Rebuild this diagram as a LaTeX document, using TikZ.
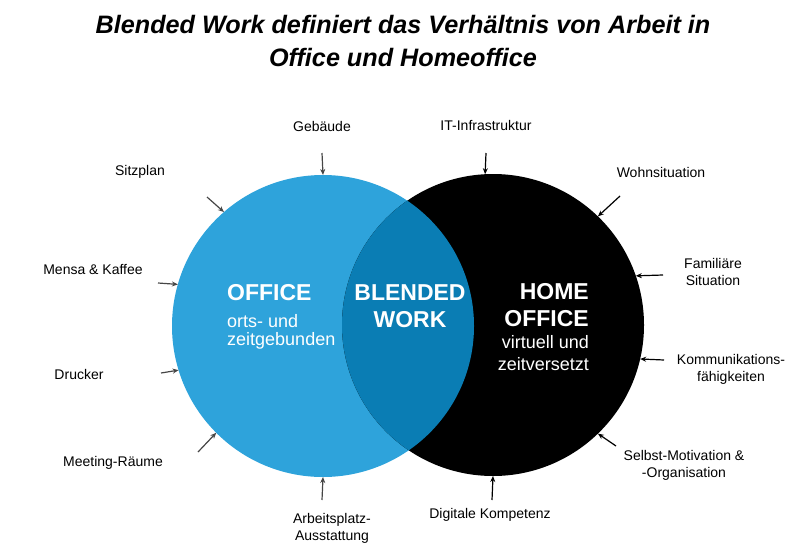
\documentclass[tikz,border=0pt]{standalone}
\usepackage{fontspec}
\setmainfont{Liberation Sans}
\usetikzlibrary{arrows.meta,positioning}

\definecolor{office-blue}{RGB}{46,163,219}   %light blue
\definecolor{blend-blue}{RGB}{10,125,180}    %overlap
\definecolor{arrow-gray}{RGB}{70,70,70}

\tikzset{
  lbl/.style={font=\fontsize{14}{17}\selectfont, align=center, inner sep=0pt},
  inarrow/.style={line width=1.2pt, -{Stealth[length=6pt,width=5pt]}},
  venn/.style={circle, minimum size=302pt, inner sep=0pt, outer sep=0pt},
  head/.style={text=white, inner sep=0pt, font=\bfseries\fontsize{23}{26}\selectfont},
  sub/.style={text=white, inner sep=0pt, font=\fontsize{18}{21}\selectfont}
}

\begin{document}
\begin{tikzpicture}[x=1pt,y=-1pt]  %pixel units, y downwards
    \useasboundingbox (0,0) rectangle (799,554);

    \def\xo{323};   \def\yo{326};   %office centre
    \def\xh{493};   \def\yh{325};   %home office centre
    \def\rr{151pt};                 %radius

    %title
    \node[font=\bfseries\itshape\fontsize{25.2}{33}\selectfont, align=center, inner sep=0pt] (title) at (403,41)
        {Blended Work definiert das Verhältnis von Arbeit in\\Office und Homeoffice};

    %circles
    \node[venn, fill=office-blue] (office) at (\xo,\yo) {};
    \node[venn, fill=black] (home) at (\xh,\yh) {};
    \begin{scope}
      \clip (\xo,\yo) circle (\rr);
      \fill[blend-blue] (\xh,\yh) circle (\rr);
    \end{scope}

    %circle texts (one node per line, at baselines)
    \node[head, anchor=base west] (officea) at (227,300) {OFFICE};
    \node[sub, anchor=base west] (officeb) at (227,327) {orts- und};
    \node[sub, anchor=base west] (officec) at (227,345) {zeitgebunden};

    \node[head, anchor=base] (blenda) at (410,300) {BLENDED};
    \node[head, anchor=base] (blendb) at (410,327) {WORK};

    \node[head, anchor=base east] (homea) at (589,299) {HOME};
    \node[head, anchor=base east] (homeb) at (589,326) {OFFICE};
    \node[sub, anchor=base east] (homec) at (589,348) {virtuell und};
    \node[sub, anchor=base east] (homed) at (589,370) {zeitversetzt};

    %office factors
    \node[lbl] (gebaeude) at (322,126) {Gebäude};
    \node[lbl] (sitzplan) at (140,172) {Sitzplan};
    \node[lbl] (mensa) at (93,269) {Mensa \& Kaffee};
    \node[lbl] (drucker) at (79,374) {Drucker};
    \node[lbl] (meeting) at (113,463) {Meeting-Räume};
    \node[lbl] (platz) at (332,528) {Arbeitsplatz-\\Ausstattung};

    \coordinate (tgebaeude) at (322,153);
    \coordinate (tsitzplan) at (207,197);
    \coordinate (tmensa) at (158,283);
    \coordinate (tdrucker) at (161,373);
    \coordinate (tmeeting) at (198,452);
    \coordinate (tplatz) at (322,500);

    \draw[inarrow, arrow-gray] (tgebaeude) -- (office.90);
    \draw[inarrow, arrow-gray] (tsitzplan) -- (office.131);
    \draw[inarrow, arrow-gray] (tmensa) -- (office.164);
    \draw[inarrow, arrow-gray] (tdrucker) -- (office.197);
    \draw[inarrow, arrow-gray] (tmeeting) -- (office.225);
    \draw[inarrow, arrow-gray] (tplatz) -- (office.270);

    %home office factors
    \node[lbl] (infra) at (486,125) {IT-Infrastruktur};
    \node[lbl] (wohnen) at (661,172) {Wohnsituation};
    \node[lbl] (familie) at (713,272) {Familiäre\\Situation};
    \node[lbl] (kommu) at (731,369) {Kommunikations-\\fähigkeiten};
    \node[lbl] (selbst) at (684,465) {Selbst-Motivation \&\\-Organisation};
    \node[lbl] (digital) at (490,515) {Digitale Kompetenz};

    \coordinate (tinfra) at (486,153);
    \coordinate (twohnen) at (620,196);
    \coordinate (tfamilie) at (663,275);
    \coordinate (tkommu) at (664,360);
    \coordinate (tselbst) at (616,446);
    \coordinate (tdigital) at (492,500);

    \draw[inarrow] (tinfra) -- (home.93);
    \draw[inarrow] (twohnen) -- (home.46);
    \draw[inarrow] (tfamilie) -- (home.19);
    \draw[inarrow] (tkommu) -- (home.347);
    \draw[inarrow] (tselbst) -- (home.314);
    \draw[inarrow] (tdigital) -- (home.270);
\end{tikzpicture}
\end{document}
